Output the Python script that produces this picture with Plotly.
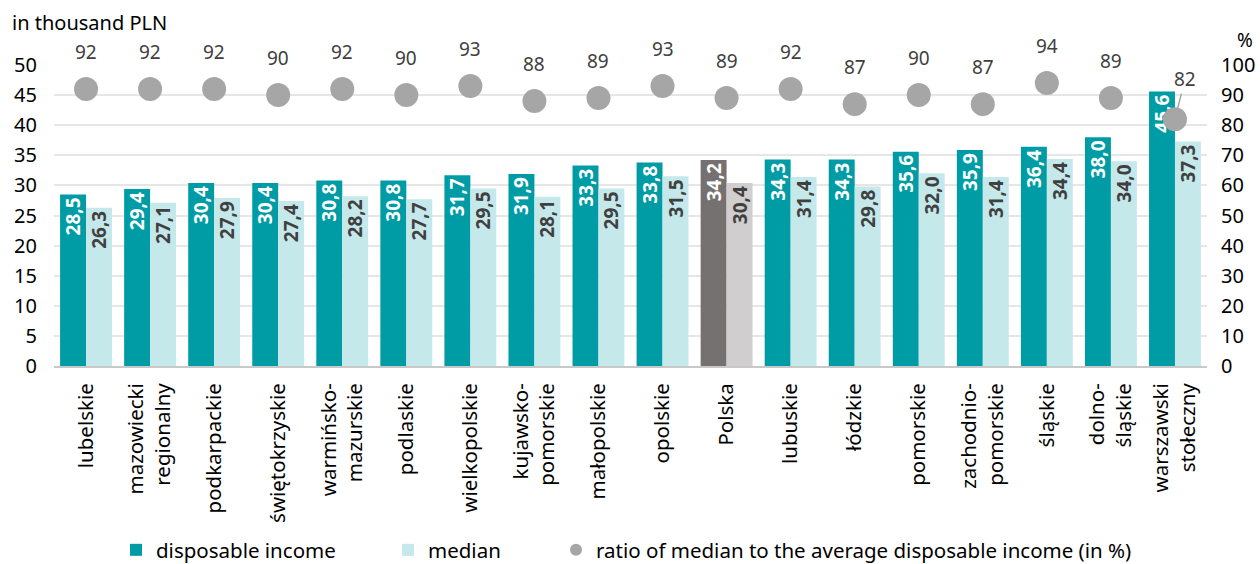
import plotly.graph_objects as go

# Regions (tick labels, line breaks for long names)
regions = [
    "lubelskie", "mazowiecki<br>regionalny", "podkarpackie", "świętokrzyskie",
    "warmińsko-<br>mazurskie", "podlaskie", "wielkopolskie", "kujawsko-<br>pomorskie",
    "małopolskie", "opolskie", "Polska", "lubuskie", "łódzkie", "pomorskie",
    "zachodnio-<br>pomorskie", "śląskie", "dolno-<br>śląskie", "warszawski<br>stołeczny",
]
# Average disposable income per person, thousand PLN
disposable = [28.5, 29.4, 30.4, 30.4, 30.8, 30.8, 31.7, 31.9, 33.3,
              33.8, 34.2, 34.3, 34.3, 35.6, 35.9, 36.4, 38.0, 45.6]
# Median disposable income, thousand PLN
median = [26.3, 27.1, 27.9, 27.4, 28.2, 27.7, 29.5, 28.1, 29.5,
          31.5, 30.4, 31.4, 29.8, 32.0, 31.4, 34.4, 34.0, 37.3]
# Median as % of the average
ratio = [92, 92, 92, 90, 92, 90, 93, 88, 89, 93, 89, 92, 87, 90, 87, 94, 89, 82]

TEAL, LIGHT = "#009CA6", "#C5E8EA"
DARK_GREY, LIGHT_GREY = "#767171", "#D0CECE"
DOT = "#A6A6A6"
FONT = "Noto Sans"

col_disp = [DARK_GREY if r == "Polska" else TEAL for r in regions]
col_med = [LIGHT_GREY if r == "Polska" else LIGHT for r in regions]

W, H, L, R, T, B = 1260, 564, 54, 53, 65, 198
pw, ph = W - L - R, H - T - B


def px_x(x):
    return (x - L) / pw


def px_y(y):
    return (H - B - y) / ph


fig = go.Figure()
fig.add_trace(go.Bar(
    x=regions, y=disposable, name="disposable income",
    marker=dict(color=col_disp, line=dict(width=0)),
    texttemplate="%{y:.1f}", textposition="inside", insidetextanchor="end",
    textangle=-90, constraintext="none",
    textfont=dict(family=FONT, size=19, color="white", weight="bold"),
    legend="legend", showlegend=True,
))
fig.add_trace(go.Bar(
    x=regions, y=median, name="median",
    marker=dict(color=col_med, line=dict(width=0)),
    texttemplate="%{y:.1f}", textposition="inside", insidetextanchor="end",
    textangle=-90, constraintext="none",
    textfont=dict(family=FONT, size=19, color="#404040", weight="bold"),
    legend="legend2", showlegend=True,
))
fig.add_trace(go.Scatter(
    x=regions, y=ratio, yaxis="y2", mode="markers",
    name="ratio of median to the average disposable income (in %)",
    marker=dict(size=24, color=DOT),
    legend="legend3", showlegend=True,
))

# Ratio labels above the dots; the last one is pulled aside with a leader line
for r, v in zip(regions, ratio):
    if r.startswith("warszawski"):
        fig.add_annotation(x=r, y=v, xref="x", yref="y2", text=str(v),
                           showarrow=True, arrowhead=0, arrowwidth=1.5,
                           arrowcolor=DOT, ax=10, ay=-40, standoff=11,
                           font=dict(family=FONT, size=19, color="#404040"))
    else:
        fig.add_annotation(x=r, y=v, xref="x", yref="y2", text=str(v),
                           showarrow=False, yshift=37,
                           font=dict(family=FONT, size=19, color="#404040"))

fig.add_annotation(x=px_x(10), y=px_y(22), xref="paper", yref="paper",
                   xanchor="left", yanchor="middle", text="in thousand PLN",
                   showarrow=False, font=dict(family=FONT, size=20, color="#000000"))
fig.add_annotation(x=px_x(1245), y=px_y(40), xref="paper", yref="paper",
                   xanchor="center", yanchor="middle", text="%", showarrow=False,
                   font=dict(family=FONT, size=19, color="#000000"))

legend_common = dict(orientation="h", yanchor="middle", y=px_y(550),
                     xanchor="left", bgcolor="rgba(0,0,0,0)", itemwidth=30,
                     itemsizing="constant",
                     font=dict(family=FONT, size=20.5, color="#000000"))
fig.update_layout(
    width=W, height=H,
    margin=dict(l=L, r=R, t=T, b=B, autoexpand=False),
    paper_bgcolor="white", plot_bgcolor="white",
    separators=", ",
    showlegend=True,
    barmode="group", bargap=0.19, bargroupgap=0,
    font=dict(family=FONT, size=18, color="#000000"),
    legend=dict(legend_common, x=px_x(116)),
    legend2=dict(legend_common, x=px_x(388)),
    legend3=dict(legend_common, x=px_x(556)),
    xaxis=dict(range=[-0.5, len(regions) - 0.5], tickangle=-90,
               showline=True, linecolor="#C8C8C8", linewidth=2,
               tickfont=dict(family=FONT, size=20.5, color="#000000"),
               ticks="", ticklabelstandoff=7, automargin=False),
    yaxis=dict(range=[0, 50], dtick=5, showgrid=True, gridcolor="#E6E6E6",
               gridwidth=1.5, zeroline=False, ticks="", ticklabelstandoff=16,
               automargin=False,
               tickfont=dict(family=FONT, size=20, color="#000000")),
    yaxis2=dict(range=[0, 100], dtick=10, overlaying="y", side="right",
                showgrid=False, zeroline=False, ticks="", ticklabelstandoff=13,
                automargin=False,
                tickfont=dict(family=FONT, size=20, color="#000000")),
)

fig.write_html("out.html")
